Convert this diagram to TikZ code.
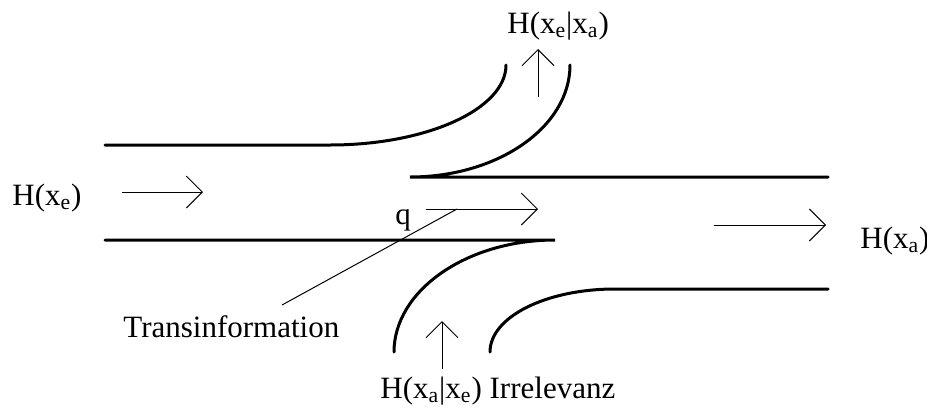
\documentclass[tikz,border=0pt]{standalone}
\usepackage{fontspec}
\setmainfont{Liberation Serif}
\usetikzlibrary{arrows.meta}
\begin{document}
\begin{tikzpicture}[x=0.5pt,y=-0.5pt,
  wall/.style={line width=1.5pt,line cap=round},
  flow/.style={line width=0.5pt,-{Straight Barb[length=8pt,width=16pt,line width=0.5pt]}},
  thin/.style={line width=0.5pt},
  lbl/.style={inner sep=0pt,anchor=base west,font=\fontsize{15.5}{18}\selectfont}]
\useasboundingbox (0,0) rectangle (927,408);
% walls
\draw[wall] (105,145) -- (330,145) .. controls (427,145) and (506,109) .. (506,65);
\draw[wall] (828,177) -- (410,177) .. controls (498,177) and (570,127) .. (570,65);
\draw[wall] (105,240) -- (555,240) .. controls (466,240) and (394,291) .. (394,352);
\draw[wall] (828,289) -- (615,289) .. controls (546,289) and (490,317) .. (490,352);
% labels
\node[lbl] (he) at (12,205) {H(x\textsubscript{e})};
\node[lbl] (ha) at (860,248) {H(x\textsubscript{a})};
\node[lbl] (hea) at (507,33) {H(x\textsubscript{e}|x\textsubscript{a})};
\node[lbl] (hae) at (380,398) {H(x\textsubscript{a}|x\textsubscript{e}) Irrelevanz};
\node[lbl] (ti) at (123,337) {Transinformation};
\node[lbl] (q) at (395,224) {q};
% flow arrows
\coordinate (a1s) at (122,192); \coordinate (a1e) at (203,192);
\coordinate (a2s) at (426,209); \coordinate (a2e) at (538,209);
\coordinate (a3s) at (714,225); \coordinate (a3e) at (826,225);
\coordinate (a4s) at (538,97);  \coordinate (a4e) at (538,49);
\coordinate (a5s) at (442,369); \coordinate (a5e) at (442,321);
\draw[flow] (a1s) -- (a1e);
\draw[flow] (a2s) -- (a2e);
\draw[flow] (a3s) -- (a3e);
\draw[flow] (a4s) -- (a4e);
\draw[flow] (a5s) -- (a5e);
% pointer
\coordinate (tip) at (282,305); \coordinate (tq) at (457,209);
\draw[thin] (tip) -- (tq);
\end{tikzpicture}
\end{document}
